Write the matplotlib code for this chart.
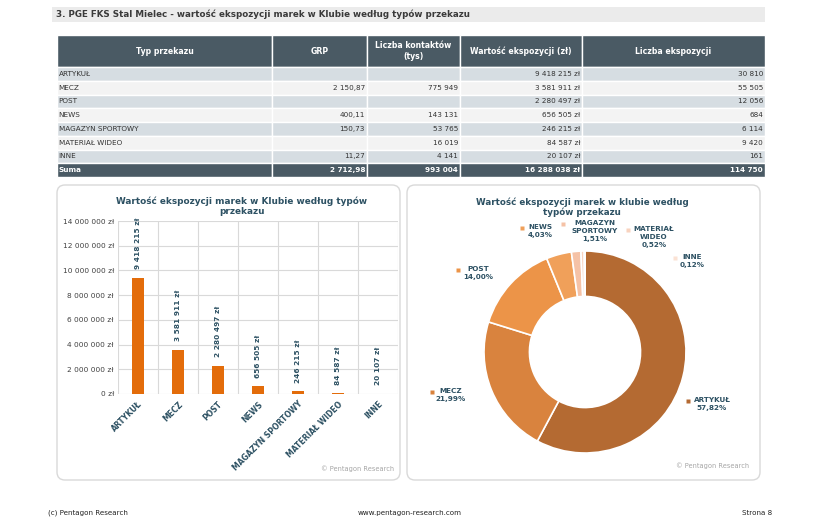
import numpy as np
import matplotlib.pyplot as plt
from matplotlib.patches import Rectangle, FancyBboxPatch

# dane z tabeli
typy = ['ARTYKUŁ', 'MECZ', 'POST', 'NEWS', 'MAGAZYN SPORTOWY', 'MATERIAŁ WIDEO', 'INNE']
grp = [None, 2150.87, None, 400.11, 150.73, None, 11.27]
kontakty = [None, 775949, None, 143131, 53765, 16019, 4141]
wartosc = [9418215, 3581911, 2280497, 656505, 246215, 84587, 20107]
liczba = [30810, 55505, 12056, 684, 6114, 9420, 161]
suma = ['Suma', 2712.98, 993004, 16288038, 114750]
naglowki = ['Typ przekazu', 'GRP', 'Liczba kontaktów\n(tys)', 'Wartość ekspozycji (zł)', 'Liczba ekspozycji']
yticks = [0, 2e6, 4e6, 6e6, 8e6, 10e6, 12e6, 14e6]

W, H = 822, 526
teal = '#2d5163'
ciemny = '#4a5a64'
kolory_pie = ['#b46a32', '#d9833e', '#ec9448', '#f0a05a', '#f5c2a6', '#f8d3bf', '#fbe2d4']


def fmt_int(v):
    return '{:,}'.format(v).replace(',', ' ')


def fmt_grp(v):
    return '{:,.2f}'.format(v).replace(',', ' ').replace('.', ',')


def box(x0, y0, x1, y1):
    return [x0 / W, 1 - y1 / H, (x1 - x0) / W, (y1 - y0) / H]


plt.rcParams['font.family'] = 'DejaVu Sans'
fig = plt.figure(figsize=(W / 100, H / 100), dpi=100)
ax0 = fig.add_axes([0, 0, 1, 1])
ax0.set_xlim(0, W)
ax0.set_ylim(H, 0)
ax0.axis('off')

# naglowek strony
ax0.add_patch(Rectangle((52, 7), 713, 15, color='#ebebeb', lw=0))
ax0.text(56, 14.5, '3. PGE FKS Stal Mielec - wartość ekspozycji marek w Klubie według typów przekazu',
         fontsize=6.3, fontweight='bold', color='#3a3a3a', va='center')

# tabela
kol = [57, 272, 367, 460, 582, 765]
h_top, h_bot = 35, 67
rh = 13.75
for j in range(5):
    ax0.add_patch(Rectangle((kol[j], h_top), kol[j + 1] - kol[j], h_bot - h_top,
                            facecolor=ciemny, edgecolor='white', lw=1))
    ax0.text((kol[j] + kol[j + 1]) / 2, (h_top + h_bot) / 2, naglowki[j], color='white',
             fontsize=5.6, fontweight='bold', ha='center', va='center', linespacing=1.3)

for i, t in enumerate(typy):
    y0 = h_bot + i * rh
    fc = '#d6dde2' if i % 2 == 0 else '#f3f3f3'
    wiersz = [t,
              fmt_grp(grp[i]) if grp[i] is not None else '',
              fmt_int(kontakty[i]) if kontakty[i] is not None else '',
              fmt_int(wartosc[i]) + ' zł',
              fmt_int(liczba[i])]
    for j in range(5):
        ax0.add_patch(Rectangle((kol[j], y0), kol[j + 1] - kol[j], rh,
                                facecolor=fc, edgecolor='white', lw=1))
        if j == 0:
            ax0.text(kol[0] + 1.5, y0 + rh / 2, wiersz[j], fontsize=5.2, color='#333333', va='center')
        else:
            ax0.text(kol[j + 1] - 2, y0 + rh / 2, wiersz[j], fontsize=5.2, color='#333333',
                     va='center', ha='right')

y0 = h_bot + len(typy) * rh
wiersz = [suma[0], fmt_grp(suma[1]), fmt_int(suma[2]), fmt_int(suma[3]) + ' zł', fmt_int(suma[4])]
for j in range(5):
    ax0.add_patch(Rectangle((kol[j], y0), kol[j + 1] - kol[j], rh,
                            facecolor=ciemny, edgecolor='white', lw=1))
    if j == 0:
        ax0.text(kol[0] + 1.5, y0 + rh / 2, wiersz[j], fontsize=5.2, color='white',
                 fontweight='bold', va='center')
    else:
        ax0.text(kol[j + 1] - 2, y0 + rh / 2, wiersz[j], fontsize=5.2, color='white',
                 fontweight='bold', va='center', ha='right')

# ramki wykresow
for (x0, x1) in [(57, 400), (407, 760)]:
    ax0.add_patch(FancyBboxPatch((x0, 185), x1 - x0, 295, boxstyle='round,pad=0,rounding_size=8',
                                 facecolor='white', edgecolor='#d9d9d9', lw=1))
ax0.text(394, 469, '© Pentagon Research', fontsize=4.8, color='#a6a6a6', ha='right', va='center')
ax0.text(749, 466, '© Pentagon Research', fontsize=4.8, color='#a6a6a6', ha='right', va='center')

# wykres slupkowy
ax0.text(242, 206, 'Wartość ekspozycji marek w Klubie według typów\nprzekazu', fontsize=6.4,
         fontweight='bold', color=teal, ha='center', va='center', linespacing=1.1)
ax = fig.add_axes(box(118, 221, 398, 394))
x = np.arange(len(typy))
ax.bar(x, wartosc, width=0.3, color='#e36c0a', zorder=3)
ax.set_xlim(-0.5, len(typy) - 0.5)
ax.set_ylim(0, 14e6)
ax.set_yticks(yticks)
ax.set_yticklabels([fmt_int(int(v)) + ' zł' for v in yticks], fontsize=5.3, color='#404040')
ax.set_xticks(x)
ax.set_xticklabels(typy, rotation=45, ha='right', rotation_mode='anchor', fontsize=5.5,
                   fontweight='bold', color=teal)
ax.set_xticks(np.arange(-0.5, len(typy), 1), minor=True)
ax.grid(which='minor', axis='x', color='#d9d9d9', lw=0.8)
ax.grid(which='major', axis='y', color='#d9d9d9', lw=0.8)
ax.tick_params(which='both', length=0)
ax.tick_params(axis='x', pad=4)
ax.tick_params(axis='y', pad=3)
for s in ax.spines.values():
    s.set_visible(False)
for i, v in enumerate(wartosc):
    ax.annotate(fmt_int(v) + ' zł', (i, v), xytext=(0, 6), textcoords='offset points',
                rotation=90, ha='center', va='bottom', fontsize=5.3, fontweight='bold', color=teal)

# wykres kolowy
ax0.text(582, 207, 'Wartość ekspozycji marek w klubie według\ntypów przekazu', fontsize=6.3,
         fontweight='bold', color=teal, ha='center', va='center', linespacing=1.1)
axp = fig.add_axes(box(484, 251, 686, 453))
axp.pie(wartosc, startangle=90, counterclock=False, colors=kolory_pie, radius=1,
        wedgeprops=dict(width=0.45, edgecolor='white', linewidth=1.2))
axp.set_xlim(-1, 1)
axp.set_ylim(-1, 1)
axp.set_aspect('equal')
axp.axis('off')

procent = [v / suma[3] * 100 for v in wartosc]
# pozycje etykiet: (x srodka tekstu, y pierwszej linii, x kwadracika)
etykiety_poz = [(712, 401, 688), (451, 392, 432), (478, 270, 458), (540, 228, 522),
                (595, 224, 563), (654, 230, 628), (692, 258, 675)]
etykiety_txt = ['ARTYKUŁ', 'MECZ', 'POST', 'NEWS', 'MAGAZYN\nSPORTOWY', 'MATERIAŁ\nWIDEO', 'INNE']
for i, (tx, ty, sx) in enumerate(etykiety_poz):
    txt = etykiety_txt[i] + '\n' + '{:.2f}%'.format(procent[i]).replace('.', ',')
    ax0.text(tx, ty - 4, txt, fontsize=5.2, fontweight='bold', color=teal, ha='center', va='top',
             linespacing=1.4)
    ax0.plot(sx, ty, marker='s', ms=2.2, color=kolory_pie[i], mec='none')

# stopka
ax0.text(48, 513, '(c) Pentagon Research', fontsize=5.1, color='#222222', va='center')
ax0.text(410, 513, 'www.pentagon-research.com', fontsize=5.1, color='#222222', va='center', ha='center')
ax0.text(772, 513, 'Strona 8', fontsize=5.1, color='#222222', va='center', ha='right')

fig.savefig('out.png', dpi=100)
